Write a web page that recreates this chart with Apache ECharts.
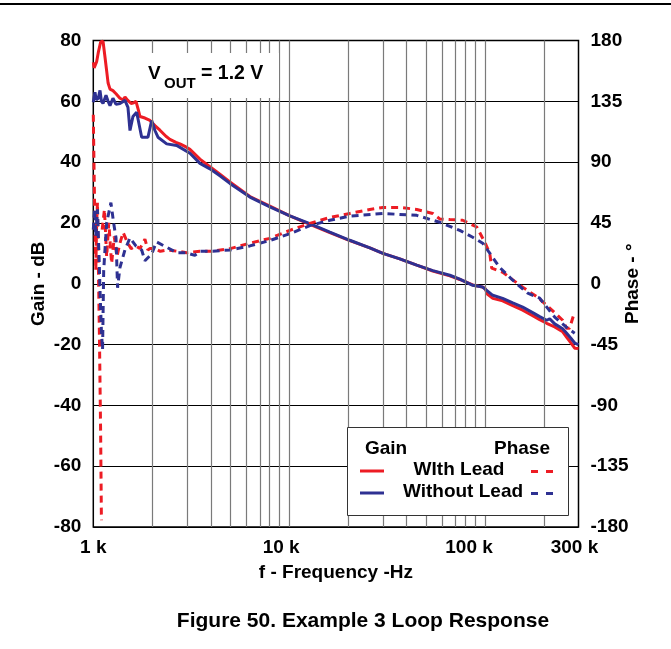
<!DOCTYPE html>
<html>
<head>
<meta charset="utf-8">
<script src="https://cdn.jsdelivr.net/npm/echarts@6/dist/echarts.min.js"></script>
<style>html,body{margin:0;padding:0;background:#fff}#c{width:671px;height:649px}</style>
</head>
<body>
<div id="c"></div>
<script>
// ---- data (frequency in Hz) ----
const freqTickValues = [1000, 10000, 100000, 300000];
const freqTickLabels = ['1 k', '10 k', '100 k', '300 k'];
const gridFreqs = [2000,3000,4000,5000,6000,7000,8000,9000,10000,20000,30000,40000,50000,60000,70000,80000,90000,100000,200000];

const gainWith = [
 [1000,72.8],[1010,71],[1020,70.5],[1040,73],[1060,76],[1090,79.5],[1121,79.8],[1150,74],[1170,70],[1190,66],
 [1217,64],[1260,63.5],[1306,62.5],[1368,61],[1420,60.5],[1451,61.4],[1500,60.3],[1560,59.3],[1610,59.5],[1652,60],
 [1700,57],[1731,55],[1835,54.5],[1947,53.7],[2064,52],[2189,50.5],[2349,48.5],[2462,47.5],[2642,46.5],[2769,46],
 [2972,45],[3114,44.2],[3503,41],[3939,38.5],[4430,36],[4982,33.5],[6303,28.7],[7970,25.5],[10080,22.3],[12750,19.5],
 [16130,16.8],[20400,14.2],[25800,11.8],[30100,10],[36700,8.2],[44800,6.1],[54100,4.2],[66100,2.6],[74300,1.4],[86500,-0.4],
 [97300,-1.1],[100000,-1.5],[103000,-3.5],[109500,-4.8],[123000,-5.6],[138500,-7.2],[155700,-8.7],[175000,-10.5],[190100,-11.8],[206400,-13],
 [226800,-14.2],[249100,-15.8],[261100,-17.6],[275000,-19.5],[286900,-21.2],[300000,-21.3]
];
const gainWithout = [
 [1000,59.7],[1010,61.5],[1020,63],[1035,60.5],[1060,61],[1082,63.6],[1100,60],[1121,59.3],[1161,62],[1190,60],
 [1217,58.6],[1260,61],[1306,59],[1368,59.3],[1451,60.3],[1503,58],[1539,50.4],[1594,55],[1665,56.4],[1766,48.2],
 [1902,48.2],[1986,53.7],[2064,50.4],[2139,48.2],[2369,46],[2664,45.5],[3114,42.9],[3503,39.6],[3939,37.8],[4430,35.5],
 [4982,33],[6303,28.5],[7970,25.3],[10080,22.3],[12750,19.8],[16130,17],[20400,14.3],[25800,11.8],[30100,10],[36700,8.2],
 [44800,6.1],[54100,4.3],[66100,2.8],[74300,1.5],[86500,-0.5],[97300,-1.1],[109500,-3.8],[123000,-4.8],[138500,-6.3],[155700,-7.7],
 [175000,-9.5],[190100,-10.8],[206400,-12],[213800,-11.5],[226800,-13.2],[249100,-14.8],[261100,-16.3],[275000,-18],[286900,-19.5],[300000,-20]
];
const phaseWith = [
 [1000,125],[1010,80],[1020,40],[1030,10],[1040,45],[1050,60],[1060,20],[1075,-40],[1090,-110],[1100,-175],[1105,'-'],
 [1110,40],[1140,55],[1170,20],[1200,45],[1240,15],[1280,35],[1320,20],[1368,30],[1420,38],[1500,30],[1560,26],[1650,28],
 [1730,26],[1835,33],[1900,25],[1947,26],[2064,26],[2200,24],[2400,25],[2700,24],[3000,23],[3500,24],[4000,24],[5000,26],
 [6300,30],[7970,33.6],[10080,39.5],[12750,44.7],[16130,49],[20400,52],[25800,55],[30100,56.5],[36700,56.5],[44800,55],
 [54100,52],[58700,48],[66100,47.5],[76900,47],[90700,42],[99700,30.7],[105700,22.5],[108200,11.5],[123100,8.5],[155700,-2.6],
 [185700,-10],[213800,-18],[249100,-27],[261100,-33],[270000,-33],[285000,-22]
];
const phaseWithout = [
 [1000,40],[1015,55],[1030,35],[1050,55],[1070,20],[1085,-10],[1100,-35],[1115,-49],[1130,10],[1170,45],
 [1230,60],[1270,45],[1306,34],[1330,-3],[1368,12],[1450,25],[1539,34],[1650,28],[1766,25],[1835,17],
 [1986,22],[2100,31],[2369,27],[2664,23],[2972,23],[3300,21],[3500,24],[4000,24],[5000,25],[6300,28],
 [7970,32],[10080,37],[12750,43],[16130,47],[20400,50],[30100,52],[44800,50.6],[54100,47],[58700,45.5],[74300,39.5],
 [86500,34.4],[97300,30],[118900,12],[138500,2.6],[165200,-7],[190100,-10.7],[226800,-24.7],[264200,-33],[286900,-36.6]
];

// ---- chart ----
const RED = '#ED1C24', BLUE = '#2E3192';
const FONT = '"Liberation Sans", Arial, sans-serif';
const FS = 19;
const lg = v => Math.log10(v);
const toLog = arr => arr.map(([f, v]) => [lg(f), v]);
const labelShift = [0, 16, 32, 8];

const rich = {};
freqTickLabels.forEach((t, i) => {
  rich['l' + i] = { fontSize: FS, fontWeight: 'bold', fontFamily: FONT, color: '#000', padding: [0, labelShift[i], 0, 0] };
});

const chart = echarts.init(document.getElementById('c'), null, { renderer: 'canvas' });
chart.setOption({
  animation: false,
  backgroundColor: '#fff',
  textStyle: { fontFamily: FONT },
  grid: { left: 93.3, right: 92.5, top: 40.5, bottom: 122, show: true, borderColor: '#000', borderWidth: 1.5, backgroundColor: 'transparent' },
  xAxis: {
    type: 'value', min: lg(1000), max: lg(300000),
    splitLine: { show: false }, axisTick: { show: false }, axisLine: { show: false },
    axisLabel: {
      customValues: freqTickValues.map(lg), margin: 11,
      formatter: v => {
        let best = 0;
        freqTickValues.forEach((f, i) => { if (Math.abs(lg(f) - v) < Math.abs(lg(freqTickValues[best]) - v)) best = i; });
        return '{l' + best + '|' + freqTickLabels[best] + '}';
      },
      rich: rich
    },
    name: 'f - Frequency -Hz', nameLocation: 'middle', nameGap: 36, nameMoveOverlap: false,
    nameTextStyle: { fontSize: FS, fontWeight: 'bold', color: '#000', fontFamily: FONT }
  },
  yAxis: [
    {
      type: 'value', min: -80, max: 80, interval: 20, position: 'left',
      axisLine: { show: false }, axisTick: { show: false },
      splitLine: { show: true, lineStyle: { color: '#000', width: 1 } },
      axisLabel: { fontSize: FS, fontWeight: 'bold', color: '#000', margin: 12, fontFamily: FONT },
      name: 'Gain - dB', nameLocation: 'middle', nameGap: 45, nameRotate: 90, nameMoveOverlap: false,
      nameTextStyle: { fontSize: FS, fontWeight: 'bold', color: '#000', fontFamily: FONT }
    },
    {
      type: 'value', min: -180, max: 180, interval: 45, position: 'right',
      axisLine: { show: false }, axisTick: { show: false }, splitLine: { show: false },
      axisLabel: { fontSize: FS, fontWeight: 'bold', color: '#000', margin: 12, fontFamily: FONT },
      name: 'Phase - °', nameLocation: 'middle', nameGap: 45, nameRotate: 90, nameMoveOverlap: false,
      nameTextStyle: { fontSize: FS, fontWeight: 'bold', color: '#000', fontFamily: FONT }
    }
  ],
  series: [
    {
      type: 'line', data: [], z: 1, silent: true,
      markLine: {
        silent: true, symbol: ['none', 'none'], label: { show: false },
        lineStyle: { color: '#7a7a7a', width: 1.2, type: 'solid' },
        data: gridFreqs.map(f => ({ xAxis: lg(f) }))
      }
    },
    { name: 'Gain With Lead', type: 'line', yAxisIndex: 0, data: toLog(gainWith), showSymbol: false, z: 3,
      lineStyle: { color: RED, width: 3 }, connectNulls: false },
    { name: 'Gain Without Lead', type: 'line', yAxisIndex: 0, data: toLog(gainWithout), showSymbol: false, z: 3,
      lineStyle: { color: BLUE, width: 3 } },
    { name: 'Phase With Lead', type: 'line', yAxisIndex: 1, data: toLog(phaseWith), showSymbol: false, z: 3,
      lineStyle: { color: RED, width: 3, type: [7, 5] }, connectNulls: false },
    { name: 'Phase Without Lead', type: 'line', yAxisIndex: 1, data: toLog(phaseWithout), showSymbol: false, z: 3,
      lineStyle: { color: BLUE, width: 3, type: [7, 5] } }
  ],
  graphic: [
    { type: 'line', shape: { x1: 0, y1: 4, x2: 671, y2: 4 }, style: { stroke: '#000', lineWidth: 2 } },
    { type: 'rect', z: 10, shape: { x: 147, y: 53, width: 132, height: 45 }, style: { fill: '#fff' } },
    { type: 'text', z: 11, x: 148, y: 74, style: { text: 'V', font: 'bold 19px ' + FONT, fill: '#000', verticalAlign: 'middle' } },
    { type: 'text', z: 11, x: 164, y: 84, style: { text: 'OUT', font: 'bold 15px ' + FONT, fill: '#000', verticalAlign: 'middle' } },
    { type: 'text', z: 11, x: 201, y: 74, style: { text: '= 1.2 V', font: 'bold 19.5px ' + FONT, fill: '#000', verticalAlign: 'middle' } },
    { type: 'rect', z: 10, shape: { x: 347.5, y: 427.5, width: 221, height: 88 }, style: { fill: '#fff', stroke: '#333', lineWidth: 1 } },
    { type: 'text', z: 11, x: 365, y: 449, style: { text: 'Gain', font: 'bold 19px ' + FONT, fill: '#000', verticalAlign: 'middle' } },
    { type: 'text', z: 11, x: 550, y: 449, style: { text: 'Phase', font: 'bold 19px ' + FONT, fill: '#000', verticalAlign: 'middle', align: 'right' } },
    { type: 'line', z: 11, shape: { x1: 360, y1: 471, x2: 384, y2: 471 }, style: { stroke: RED, lineWidth: 3 } },
    { type: 'text', z: 11, x: 459, y: 470, style: { text: 'WIth Lead', font: 'bold 19px ' + FONT, fill: '#000', verticalAlign: 'middle', align: 'center' } },
    { type: 'line', z: 11, shape: { x1: 531, y1: 471.5, x2: 554, y2: 471.5 }, style: { stroke: RED, lineWidth: 3, lineDash: [7, 8] } },
    { type: 'line', z: 11, shape: { x1: 360, y1: 493, x2: 384, y2: 493 }, style: { stroke: BLUE, lineWidth: 3 } },
    { type: 'text', z: 11, x: 463, y: 492, style: { text: 'Without Lead', font: 'bold 19px ' + FONT, fill: '#000', verticalAlign: 'middle', align: 'center' } },
    { type: 'line', z: 11, shape: { x1: 531, y1: 493.5, x2: 554, y2: 493.5 }, style: { stroke: BLUE, lineWidth: 3, lineDash: [7, 8] } },
    { type: 'text', z: 11, x: 363, y: 621, style: { text: 'Figure 50. Example 3 Loop Response', font: 'bold 21px ' + FONT, fill: '#000', verticalAlign: 'middle', align: 'center' } }
  ]
});
</script>
</body>
</html>
